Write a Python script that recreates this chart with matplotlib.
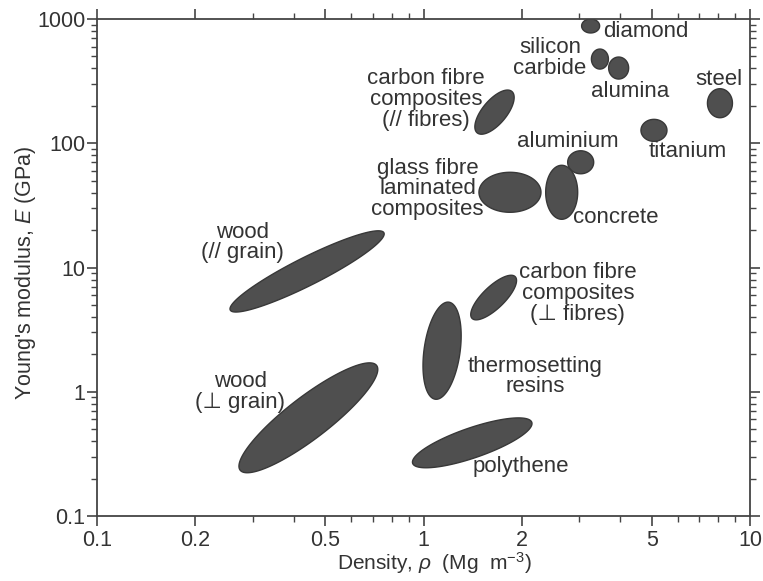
import numpy as np
import matplotlib
matplotlib.use("Agg")
import matplotlib.pyplot as plt
from matplotlib.ticker import FixedLocator, NullFormatter, FixedFormatter

plt.rcParams['font.family'] = ['Liberation Sans', 'DejaVu Sans']
plt.rcParams['mathtext.fontset'] = 'custom'
plt.rcParams['mathtext.rm'] = 'Liberation Sans'
plt.rcParams['mathtext.it'] = 'Liberation Sans:italic'

# ---- data: material property regions (density Mg/m^3, modulus GPa) ----
materials = ["wood_par", "wood_perp", "thermoset", "cf_perp", "polythene",
             "diamond", "sic", "alumina", "steel", "titanium", "aluminium",
             "concrete", "glass_fibre", "cf_par"]
density = [0.44, 0.444, 1.14, 1.64, 1.41, 3.25, 3.47, 3.96, 8.09, 5.08,
           3.03, 2.65, 1.84, 1.65]
modulus = [9.3, 0.617, 2.14, 5.73, 0.388, 879, 476, 403, 210, 127, 70.3,
           40.3, 40.3, 178]

labels = ["wood\n(// grain)", "wood\n(\u22a5 grain)", "thermosetting\nresins",
          "carbon fibre\ncomposites\n(\u22a5 fibres)", "polythene", "diamond",
          "silicon\ncarbide", "alumina", "steel", "titanium", "aluminium",
          "concrete", "glass fibre\nlaminated\ncomposites",
          "carbon fibre\ncomposites\n(// fibres)"]
label_density = [0.279, 0.275, 2.2, 2.97, 1.99, 3.54, 2.44, 4.28, 8.03, 6.45,
                 2.77, 3.88, 1.03, 1.02]
label_modulus = [15.9, 1.0, 1.33, 6.17, 0.248, 800, 485, 263, 328, 86, 104,
                 25.3, 43.0, 225]
label_ha = ["center"] * 5 + ["left"] + ["center"] * 8

x_ticks = [0.1, 0.2, 0.5, 1, 2, 5, 10]
x_ticklabels = ["0.1", "0.2", "0.5", "1", "2", "5", "10"]
y_ticks = [0.1, 1, 10, 100, 1000]
y_ticklabels = ["0.1", "1", "10", "100", "1000"]

# ellipse shapes in screen pixels (semi-major, semi-minor, angle deg)
shape_a = [86, 86, 49, 30, 63, 9, 8.5, 10, 12.5, 13, 13, 16, 31, 27]
shape_b = [14, 21, 18, 11, 15, 7, 10, 11, 14.5, 11, 11.5, 27, 20, 12]
shape_ang = [26.7, 37.5, 82, 44, 19, 0, 0, 0, 0, 0, 0, 0, 0, 50]

W, H = 763, 581
fig = plt.figure(figsize=(W / 100, H / 100), dpi=100)
ax = fig.add_axes([97 / W, 1 - 516 / H, (750 - 97) / W, (516 - 19) / H])
ax.set_xscale("log")
ax.set_yscale("log")
ax.set_xlim(0.1, 10)
ax.set_ylim(0.1, 1000)

fill_c = "#4f4f4f"
edge_c = "#383838"
text_c = "#333333"

fig.canvas.draw()
t = np.linspace(0, 2 * np.pi, 200)
for rho, E, a, b, ang in zip(density, modulus, shape_a, shape_b, shape_ang):
    cx, cy = ax.transData.transform((rho, E))
    th = np.deg2rad(ang)
    px = a * np.cos(t)
    py = b * np.sin(t)
    dx = cx + px * np.cos(th) - py * np.sin(th)
    dy = cy + px * np.sin(th) + py * np.cos(th)
    pts = ax.transData.inverted().transform(np.column_stack([dx, dy]))
    ax.fill(pts[:, 0], pts[:, 1], facecolor=fill_c, edgecolor=edge_c,
            linewidth=1.0, zorder=2)

for lab, lx, ly, ha in zip(labels, label_density, label_modulus, label_ha):
    ax.text(lx, ly, lab, ha=ha, va="center", fontsize=16, color=text_c,
            linespacing=0.98, zorder=3)

for s in ax.spines.values():
    s.set_color("#444444")
    s.set_linewidth(1.3)

ax.xaxis.set_major_locator(FixedLocator(x_ticks))
ax.xaxis.set_major_formatter(FixedFormatter(x_ticklabels))
ax.xaxis.set_minor_locator(FixedLocator(
    [v * m for v in (0.1, 1) for m in range(2, 10)]))
ax.xaxis.set_minor_formatter(NullFormatter())
ax.yaxis.set_major_locator(FixedLocator(y_ticks))
ax.yaxis.set_major_formatter(FixedFormatter(y_ticklabels))
ax.yaxis.set_minor_locator(FixedLocator(
    [v * m for v in (0.1, 1, 10, 100) for m in range(2, 10)]))
ax.yaxis.set_minor_formatter(NullFormatter())

ax.tick_params(which="both", direction="out", top=True, right=True,
               color="#444444", labelcolor=text_c, labelsize=15.5)
ax.tick_params(which="major", length=7, width=1.2)
ax.tick_params(which="minor", length=4, width=1.0)
ax.tick_params(axis="x", pad=3)
ax.tick_params(axis="y", pad=1.5)

ax.set_xlabel(r"Density, $\rho$  (Mg  m$^{-3}$)", fontsize=15, color=text_c,
              va="center")
ax.xaxis.set_label_coords(0.516, -0.094)
ax.set_ylabel(r"Young's modulus, $E$ (GPa)", fontsize=15.5, color=text_c,
              va="center")
ax.yaxis.set_label_coords(-0.11, 0.489)

fig.savefig("out.png", dpi=100, facecolor="white")
